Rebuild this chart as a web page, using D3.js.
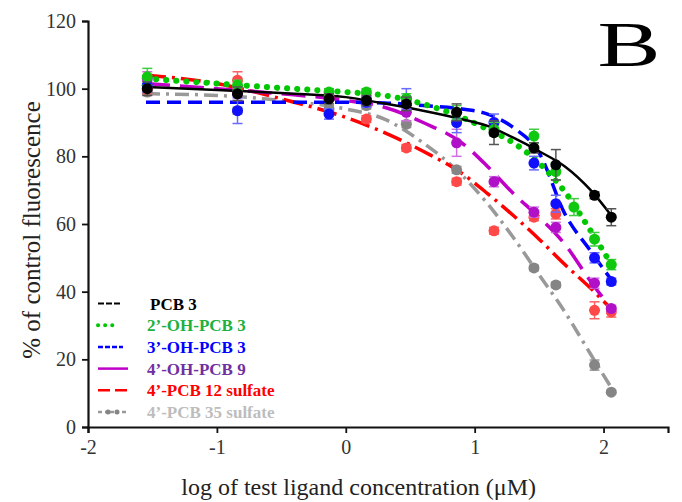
<!DOCTYPE html>
<html>
<head>
<meta charset="utf-8">
<script src="https://cdn.jsdelivr.net/npm/d3@7"></script>
<style>
  body { margin: 0; background: #fff; }
  text { font-family: "Liberation Serif", "Times New Roman", serif; }
</style>
</head>
<body>
<div id="chart"></div>
<script>
// concentrations where measured points sit (log uM)
const logConc = [-1.54, -0.84, -0.13, 0.16, 0.47, 0.86, 1.15, 1.46, 1.63, 1.77, 1.93, 2.06];

// mean % of control fluorescence, one array per compound
const pcb3Mean      = [100, 98.5, 97, 96.5, 95.5, 93, 87, 82.5, 77.5, null, 68.5, 62];
const ohPcb3aMean   = [103.5, 101, 99, 99, 97, 93, 88, 86, 75.5, 65, 55.5, 48];
const ohPcb3bMean   = [101, 93.5, 92.5, 96, 97, 90, 90, 78, 66, null, 50, 43];
const ohPcb9Mean    = [103, 98.5, 97.5, 97, 93, 84, 72.5, 63.5, 59, null, 42.5, 35];
const sulf12Mean    = [100, 102.5, 97.5, 91, 82.5, 72.5, 58, 62, 63, null, 34.5, 34];
const sulf35Mean    = [99, 93.5, 94, 95, 89.5, 76, null, 47, 42, null, 18.3, 10.3];

// error bar half-heights
const pcb3Err      = [2, 2, 1.5, 1.5, 2, 2.5, 3.5, 1.5, 4.5, null, 1, 2.5];
const ohPcb3aErr   = [2.5, 1.5, 1, 1, 1.5, 2, 2, 2, 2.5, 2.5, 2, 1.5];
const ohPcb3bErr   = [2, 3.8, 1.5, 1.5, 3, 3, 2.5, 2, 2.5, null, 1.5, 1];
const ohPcb9Err    = [2, 2, 1, 1.5, 2.5, 4, 1.5, 1.5, 1.5, null, 1.5, 1];
const sulf12Err    = [1.5, 2.5, 1, 1, 1, 1, 1, 1, 1.5, null, 2.5, 1.5];
const sulf35Err    = [1, 1, 1, 1, 1, 1, null, 0.8, 0.8, null, 1.5, 0.5];

// fitted curves
const curveX        = [-1.55, -1, -0.5, 0, 0.3, 0.6, 0.9, 1.1, 1.3, 1.5, 1.7, 1.9, 2.07];
const pcb3Curve     = [100.5, 99.6, 98.7, 97.5, 95.6, 93.5, 91, 89, 85.5, 81.5, 77, 70, 62];
const ohPcb3aCurve  = [103, 101.5, 100.2, 99, 98, 95.5, 91.5, 88, 84, 78, 69.5, 58, 47.5];
const ohPcb3bCurve  = [96, 96, 96, 96, 95.8, 95, 94, 92.5, 88.5, 81, 63, 52, 43];
const ohPcb9Curve   = [101.5, 100, 98.5, 96.5, 94.5, 90, 84, 77, 69, 62, 54, 43, 34.5];
const sulf12Curve   = [104, 101.5, 97, 91.5, 87, 81.5, 75, 69, 62.5, 55.5, 48, 41, 34.5];
const sulf35Curve   = [98.5, 98, 96.5, 94, 91, 84, 74.5, 66, 56, 45, 34, 21.5, 11];

const names = ["PCB 3", "2\u2019-OH-PCB 3", "3\u2019-OH-PCB 3", "4\u2019-OH-PCB 9", "4\u2019-PCB 12 sulfate", "4\u2019-PCB 35 sulfate"];
const xTicks = [-2, -1, 0, 1, 2];
const yTicks = [0, 20, 40, 60, 80, 100, 120];

const series = [
  { name: names[0], mean: pcb3Mean, err: pcb3Err, curve: pcb3Curve,
    line: "#000000", dot: "#000000", bar: "#555555", text: "#000000", width: 2.5, dash: null, cap: "butt" },
  { name: names[1], mean: ohPcb3aMean, err: ohPcb3aErr, curve: ohPcb3aCurve,
    line: "#00c800", dot: "#10c810", bar: "#40cc40", text: "#20b040", width: 6, dash: "0.1 10", cap: "round" },
  { name: names[2], mean: ohPcb3bMean, err: ohPcb3bErr, curve: ohPcb3bCurve,
    line: "#0000ff", dot: "#1010ff", bar: "#6a6aff", text: "#0000ff", width: 3.5, dash: "14 7", cap: "butt" },
  { name: names[3], mean: ohPcb9Mean, err: ohPcb9Err, curve: ohPcb9Curve,
    line: "#c000c8", dot: "#b010c8", bar: "#d070e0", text: "#7030a0", width: 3.5, dash: "24 10", cap: "butt" },
  { name: names[4], mean: sulf12Mean, err: sulf12Err, curve: sulf12Curve,
    line: "#ff0000", dot: "#ff4848", bar: "#ff6060", text: "#ff0000", width: 3.5, dash: "20 6 3 6", cap: "butt" },
  { name: names[5], mean: sulf35Mean, err: sulf35Err, curve: sulf35Curve,
    line: "#999999", dot: "#858585", bar: "#9a9a9a", text: "#bdbdbd", width: 3.5, dash: "14 6 3 6", cap: "butt" }
];

const W = 682, H = 502;
const margin = { top: 21, right: 14, bottom: 75, left: 88 };
const width = W - margin.left - margin.right;
const height = H - margin.top - margin.bottom;

const svg = d3.select("#chart").append("svg")
  .attr("width", W)
  .attr("height", H);

const g = svg.append("g")
  .attr("transform", `translate(${margin.left},${margin.top})`);

const x = d3.scaleLinear().domain([-2, 2.5]).range([0, width]);
const y = d3.scaleLinear().domain([0, 120]).range([height, 0]);

// axes
const xAxis = g.append("g")
  .attr("transform", `translate(0,${height})`)
  .call(d3.axisBottom(x).tickValues(xTicks).tickSize(6).tickPadding(7).tickFormat(d3.format("d")));
const yAxis = g.append("g")
  .call(d3.axisLeft(y).tickValues(yTicks).tickSize(6).tickPadding(6));

[xAxis, yAxis].forEach(a => {
  a.select(".domain").attr("stroke", "#111").attr("stroke-width", 2.2);
  a.selectAll(".tick line").attr("stroke", "#111").attr("stroke-width", 1.8);
  a.selectAll(".tick text")
    .attr("fill", "#333")
    .style("font-family", "'Liberation Serif', serif")
    .style("font-size", "20px");
});
// plain hyphen minus like the original
xAxis.selectAll(".tick text").text(d => String(d));

const line = d3.line()
  .defined((d, i) => d != null)
  .x((d, i) => x(curveX[i]))
  .y(d => y(d))
  .curve(d3.curveMonotoneX);

// curves
series.slice().reverse().forEach(s => {
  g.append("path")
    .datum(s.curve)
    .attr("fill", "none")
    .attr("stroke", s.line)
    .attr("stroke-width", s.width)
    .attr("stroke-linecap", s.cap)
    .attr("stroke-dasharray", s.dash)
    .attr("d", line);
});

// points with error bars
series.slice().reverse().forEach(s => {
  const pts = logConc.map((c, i) => ({ c, m: s.mean[i], e: s.err[i] })).filter(d => d.m != null);
  const pg = g.append("g");
  pts.forEach(d => {
    const px = x(d.c);
    pg.append("line")
      .attr("x1", px).attr("x2", px)
      .attr("y1", y(d.m - d.e)).attr("y2", y(d.m + d.e))
      .attr("stroke", s.bar).attr("stroke-width", 1.5);
    [d.m - d.e, d.m + d.e].forEach(v => {
      pg.append("line")
        .attr("x1", px - 5).attr("x2", px + 5)
        .attr("y1", y(v)).attr("y2", y(v))
        .attr("stroke", s.bar).attr("stroke-width", 1.5);
    });
  });
  pg.selectAll("circle")
    .data(pts)
    .enter()
    .append("circle")
    .attr("cx", d => x(d.c))
    .attr("cy", d => y(d.m))
    .attr("r", 5.5)
    .attr("fill", s.dot);
});

// legend
const legend = g.append("g")
  .attr("transform", `translate(10, ${y(36.5)})`);

series.forEach((s, i) => {
  const row = legend.append("g").attr("transform", `translate(0, ${i * 21.7})`);
  const lw = [22, 20, 25, 30, 30, 28][i];
  row.append("line")
    .attr("x1", 0).attr("x2", lw)
    .attr("y1", 0).attr("y2", 0)
    .attr("stroke", s.line)
    .attr("stroke-width", i === 1 ? 4 : (i === 0 ? 2 : 2.5))
    .attr("stroke-linecap", s.cap)
    .attr("stroke-dasharray", i === 1 ? "0.1 7" : (i === 0 ? "6 2" : (i === 5 ? "4 3 2 3" : (i === 4 ? "12 5" : (i === 2 ? "5 2" : null)))));
  if (i === 5) {
    [10, 19].forEach(cx => row.append("circle").attr("cx", cx).attr("cy", 0).attr("r", 2.5).attr("fill", s.dot));
  }
  row.append("text")
    .attr("x", i === 0 ? 52 : 49)
    .attr("y", 6)
    .attr("fill", s.text)
    .style("font-weight", "bold")
    .style("font-size", "17px")
    .text(s.name);
});

// axis titles
svg.append("text")
  .attr("transform", `translate(40, ${margin.top + height / 2 + 6}) rotate(-90)`)
  .attr("text-anchor", "middle")
  .attr("fill", "#222")
  .style("font-size", "25px")
  .text("% of control fluorescence");

svg.append("text")
  .attr("x", margin.left + x(0.1))
  .attr("y", 495)
  .attr("text-anchor", "middle")
  .attr("fill", "#222")
  .style("font-size", "24px")
  .text("log of test ligand concentration (\u03bcM)");

// panel letter
svg.append("text")
  .attr("transform", "translate(629, 66) scale(1.5, 1)")
  .attr("text-anchor", "middle")
  .attr("fill", "#000")
  .style("font-size", "63px")
  .text("B");
</script>
</body>
</html>
